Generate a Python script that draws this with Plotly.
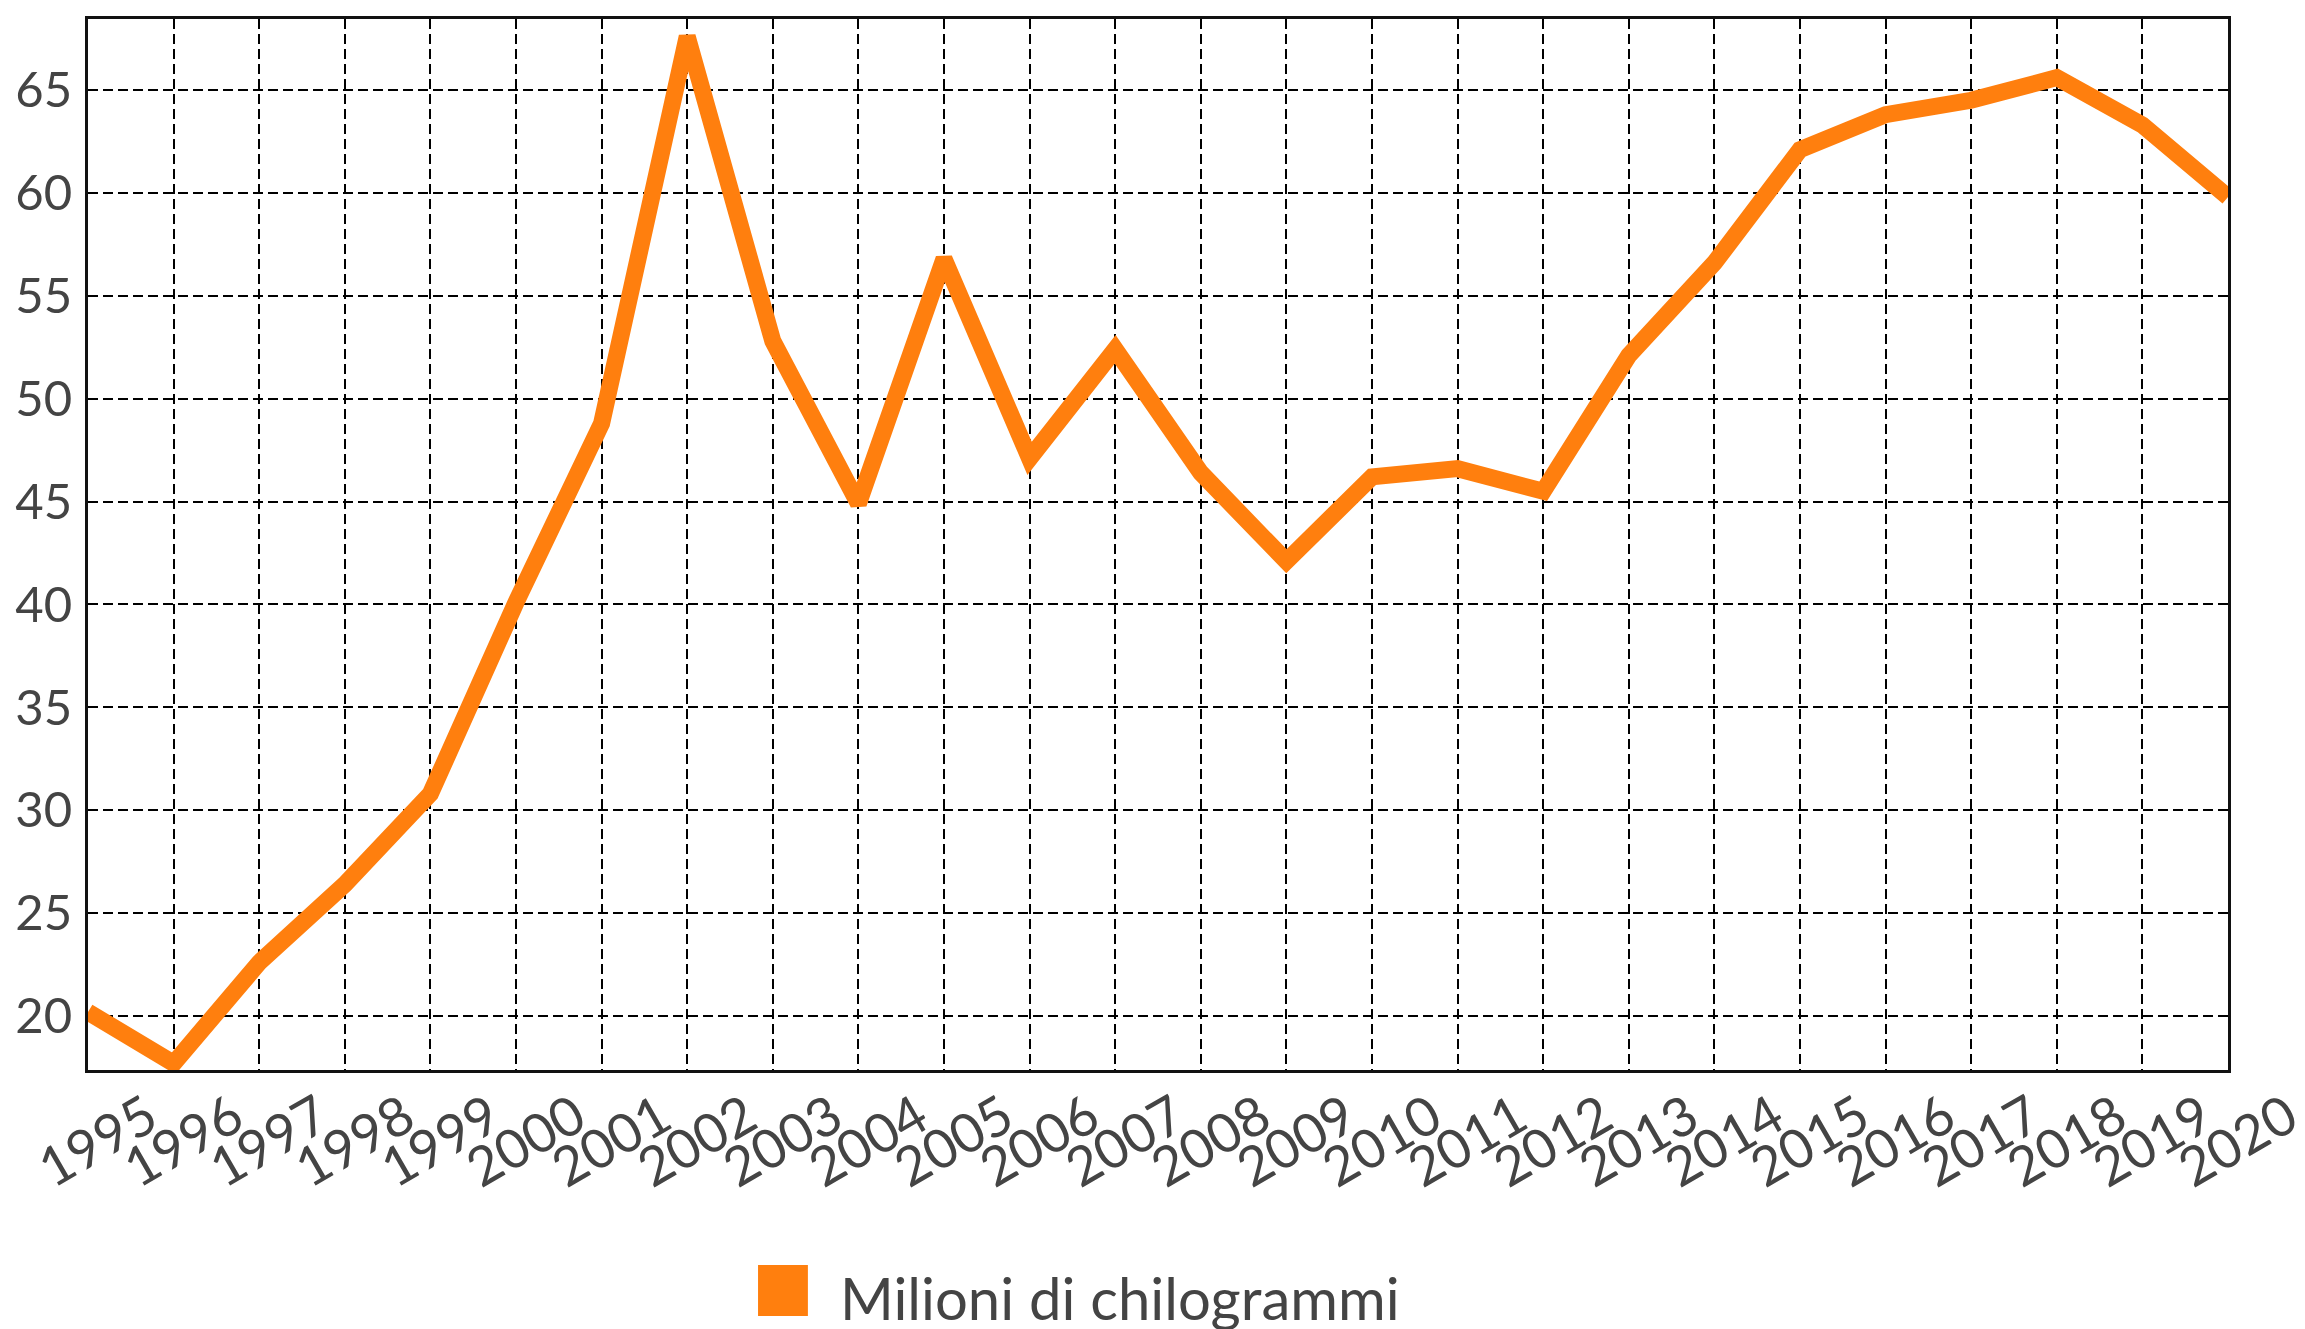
import plotly.graph_objects as go

years = list(range(1995, 2021))
year_labels = [str(y) for y in years]
values = [20.2, 17.7, 22.6, 26.4, 30.8, 40.1, 48.8, 67.6, 52.8, 44.9,
          56.8, 47.1, 52.4, 46.4, 42.1, 46.2, 46.6, 45.5, 52.1, 56.6,
          62.1, 63.8, 64.5, 65.6, 63.3, 59.8]
y_ticks = [20, 25, 30, 35, 40, 45, 50, 55, 60, 65]
series_name = "Milioni di chilogrammi"
line_color = "#FF7F0E"
text_color = "#444444"
font_family = "Source Sans Pro, Lato, sans-serif"

fig = go.Figure()
fig.add_trace(go.Scatter(
    x=years, y=values, mode="lines", name=series_name,
    line=dict(color=line_color, width=17), showlegend=False,
    cliponaxis=False,
))

axis_common = dict(
    automargin=False,
    showline=True, linecolor="#111111", linewidth=3, mirror=True,
    showgrid=True, gridcolor="#000000", gridwidth=1.5, griddash="10px,5px",
    zeroline=False, ticks="",
)

fig.update_layout(
    template="none",
    width=2305, height=1329,
    margin=dict(l=80, r=85, t=11, b=267, autoexpand=False),
    paper_bgcolor="white", plot_bgcolor="white",
    font=dict(family=font_family, color=text_color),
    xaxis=dict(range=[1995, 2020], tickvals=years, ticktext=year_labels,
               tickangle=-30, ticklabelshift=60, ticklabelstandoff=-8,
               ticklabeloverflow="allow",
               tickfont=dict(family=font_family, size=54, color=text_color),
               **axis_common),
    yaxis=dict(range=[17.38, 68.45], tickvals=y_ticks,
               ticktext=[str(v) for v in y_ticks], ticklabelstandoff=3,
               tickfont=dict(family=font_family, size=49, color=text_color),
               **axis_common),
    showlegend=False,
)

# legend drawn as a swatch + label below the chart
fig.add_shape(type="rect", xref="paper", yref="paper",
              x0=0.3131, x1=0.3364, y0=-0.2340, y1=-0.1855,
              fillcolor=line_color, line=dict(width=0))
fig.add_annotation(text=series_name, xref="paper", yref="paper",
                   x=0.3505, y=-0.2160, xanchor="left", yanchor="middle",
                   showarrow=False,
                   font=dict(family=font_family, size=58, color=text_color))

fig.write_html("out.html")
